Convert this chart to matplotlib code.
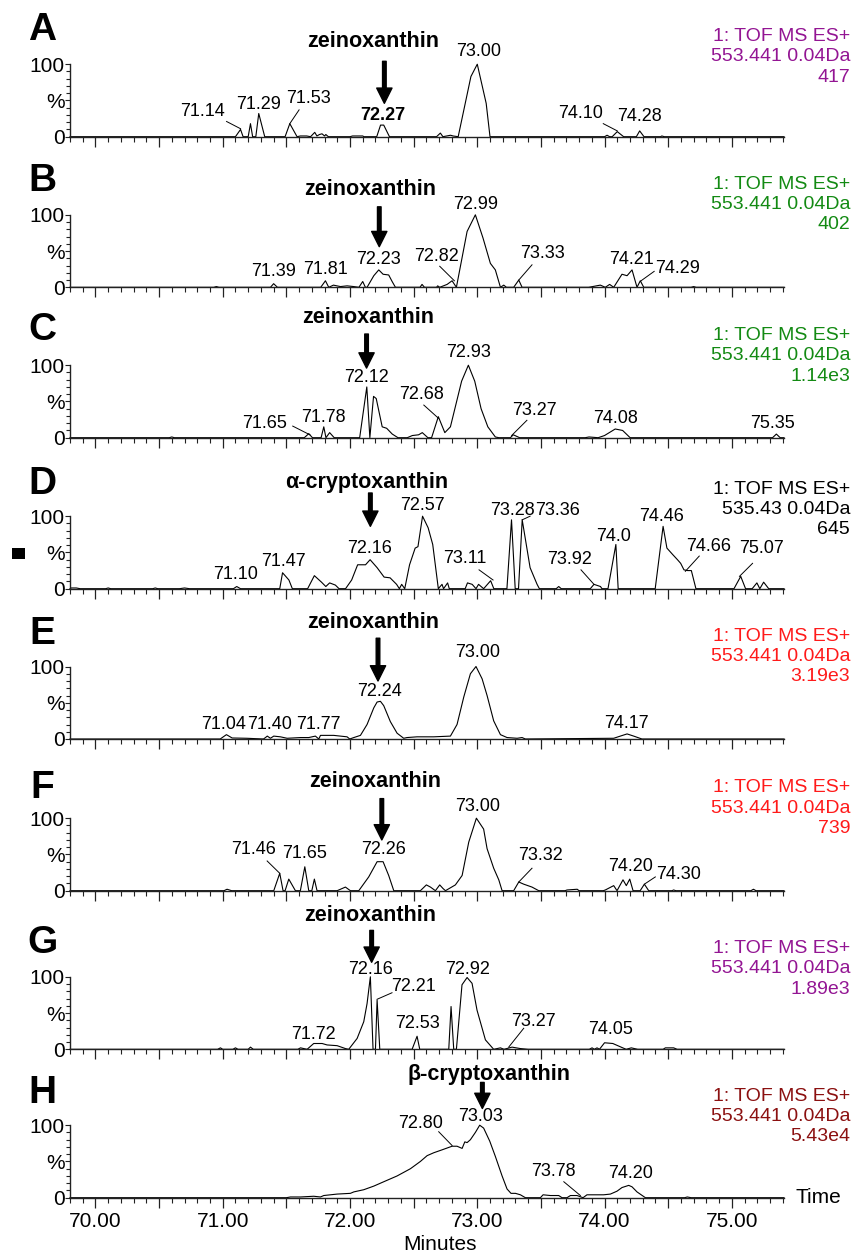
import matplotlib
matplotlib.use('Agg')
import matplotlib.pyplot as plt
import matplotlib.transforms as mtransforms
from matplotlib.patches import Rectangle
from matplotlib.ticker import MultipleLocator, FixedLocator, FuncFormatter

plt.rcParams['font.family'] = ['Liberation Sans', 'DejaVu Sans']

# chromatogram traces, (minutes, relative intensity %)
trace_a = [(69.80, 0), (71.10, 0), (71.14, 10), (71.16, 0), (71.20, 0), (71.218, 18), (71.235, 0),
           (71.26, 0), (71.283, 32), (71.33, 0), (71.49, 0), (71.527, 18), (71.584, 0), (71.61, 1),
           (71.66, 1), (71.69, 0), (71.723, 6), (71.74, 1), (71.76, 3), (71.78, 4), (71.80, 1),
           (71.81, 3), (71.83, 0), (72.00, 0), (72.02, 1), (72.10, 1), (72.11, 0), (72.21, 0),
           (72.24, 16), (72.265, 16), (72.31, 0), (72.68, 0), (72.71, 5), (72.73, 0), (72.76, 1),
           (72.79, 2), (72.81, 1), (72.85, 0), (72.95, 83), (73.00, 100), (73.07, 46), (73.10, 0),
           (74.00, 0), (74.02, 2), (74.04, 0), (74.06, 0), (74.10, 7), (74.15, 0), (74.25, 0),
           (74.276, 8), (74.31, 0), (74.44, 0), (74.45, 1), (74.47, 0), (75.41, 0)]
trace_b = [(69.80, 0), (70.93, 0), (70.95, 1), (70.97, 0), (71.375, 0), (71.40, 5), (71.43, 0),
           (71.77, 0), (71.807, 9), (71.833, 0), (71.87, 3), (71.925, 1), (71.977, 2), (72.03, 1),
           (72.07, 0), (72.10, 8), (72.121, 0), (72.134, 0), (72.187, 16), (72.226, 24), (72.26, 18),
           (72.304, 17), (72.331, 8), (72.357, 0), (72.55, 0), (72.566, 4), (72.585, 0), (72.68, 0),
           (72.689, 2), (72.705, 0), (72.763, 4), (72.802, 9), (72.836, 0), (72.92, 77), (72.985, 100),
           (73.045, 68), (73.103, 33), (73.142, 24), (73.182, 0), (73.208, 3), (73.229, 0), (73.286, 0),
           (73.326, 10), (73.352, 0), (73.875, 0), (73.967, 3), (74.006, 0), (74.04, 4), (74.072, 0),
           (74.137, 18), (74.177, 16), (74.216, 24), (74.255, 0), (74.281, 9), (74.308, 0), (74.68, 0),
           (74.70, 1), (74.72, 0), (75.41, 0)]
trace_c = [(69.80, 0), (70.58, 0), (70.60, 1), (70.62, 0), (71.641, 0), (71.676, 5.6), (71.705, 0),
           (71.773, 0), (71.794, 15), (71.811, 0), (71.84, 7), (71.876, 0), (72.076, 0), (72.132, 70),
           (72.156, 0), (72.185, 57), (72.206, 54), (72.253, 15), (72.288, 13), (72.332, 5), (72.377, 0),
           (72.45, 0), (72.49, 3), (72.539, 4), (72.568, 7), (72.612, 0), (72.641, 0), (72.694, 29),
           (72.745, 7), (72.789, 15), (72.877, 78), (72.93, 100), (72.98, 78), (73.03, 40), (73.083, 15),
           (73.142, 1), (73.17, 0), (73.26, 0), (73.283, 4), (73.333, 0), (73.848, 0), (73.878, 1),
           (73.95, 0), (74.0, 3), (74.084, 12), (74.142, 10), (74.201, 0), (75.32, 0), (75.35, 5),
           (75.38, 0), (75.41, 0)]
trace_d = [(69.80, 0), (69.81, 1), (69.85, 1), (69.88, 0), (70.08, 0), (70.10, 1), (70.12, 0), (70.45, 0),
           (70.47, 1), (70.49, 0), (70.66, 0), (70.70, 1), (70.74, 0), (71.084, 0), (71.11, 3), (71.14, 0),
           (71.448, 0), (71.47, 22), (71.52, 12), (71.547, 0), (71.667, 0), (71.72, 18), (71.776, 9),
           (71.81, 3), (71.84, 8), (71.885, 5), (71.914, 0), (71.965, 0), (72.013, 12), (72.06, 33),
           (72.122, 33), (72.158, 40), (72.213, 29), (72.268, 16), (72.315, 15), (72.366, 6), (72.388, 0),
           (72.406, 6), (72.43, 0), (72.468, 33), (72.512, 56), (72.534, 58), (72.57, 100), (72.614, 84),
           (72.65, 61), (72.694, 0), (72.723, 6), (72.735, 0), (72.767, 8), (72.78, 0), (72.905, 0),
           (72.923, 8), (72.96, 6), (72.99, 0), (73.01, 6), (73.05, 0), (73.105, 11), (73.13, 0),
           (73.233, 0), (73.269, 95), (73.298, 0), (73.324, 0), (73.353, 95), (73.415, 29), (73.47, 6),
           (73.488, 0), (73.62, 0), (73.64, 3), (73.66, 0), (73.888, 0), (73.917, 6), (73.968, 3),
           (73.98, 0), (74.027, 0), (74.089, 61), (74.107, 0), (74.398, 0), (74.46, 86), (74.49, 56),
           (74.536, 47), (74.573, 40), (74.598, 35), (74.624, 26), (74.653, 25), (74.682, 25), (74.718, 0),
           (75.017, 0), (75.07, 17), (75.108, 0), (75.16, 0), (75.197, 8), (75.22, 0), (75.25, 9),
           (75.29, 0), (75.41, 0)]
trace_e = [(69.80, 0), (70.98, 0), (71.029, 6), (71.074, 1.4), (71.19, 1), (71.32, 0), (71.336, 2),
           (71.35, 4), (71.375, 1), (71.401, 4), (71.453, 3), (71.506, 1), (71.611, 2), (71.676, 2),
           (71.728, 4), (71.755, 0), (71.768, 5), (71.872, 5), (71.977, 3), (71.998, 0), (72.03, 2),
           (72.082, 5), (72.134, 20), (72.187, 43), (72.213, 51), (72.239, 52), (72.265, 46), (72.317, 24),
           (72.37, 8), (72.422, 1), (72.448, 2), (72.527, 3), (72.605, 3), (72.658, 3), (72.789, 4),
           (72.841, 20), (72.894, 58), (72.946, 90), (72.99, 100), (73.038, 83), (73.077, 60), (73.129, 25),
           (73.182, 6), (73.234, 2), (73.313, 1), (73.352, 2), (73.378, 0), (74.072, 1), (74.124, 4),
           (74.177, 7), (74.229, 4), (74.294, 0), (75.41, 0)]
trace_f = [(69.80, 0), (71.01, 0), (71.034, 2), (71.07, 0), (71.401, 0), (71.448, 24), (71.474, 0),
           (71.49, 0), (71.519, 16), (71.571, 0), (71.61, 0), (71.645, 33), (71.676, 0), (71.70, 0),
           (71.72, 16), (71.741, 0), (71.899, 0), (71.964, 5), (72.003, 0), (72.069, 0), (72.147, 19),
           (72.213, 40), (72.26, 40), (72.304, 21), (72.344, 0), (72.553, 0), (72.60, 8), (72.632, 5),
           (72.671, 0), (72.705, 8), (72.731, 3), (72.75, 0), (72.828, 8), (72.881, 21), (72.933, 67),
           (72.993, 100), (73.05, 85), (73.077, 58), (73.129, 31), (73.169, 15), (73.195, 0), (73.286, 0),
           (73.326, 12), (73.365, 9), (73.43, 5), (73.483, 0), (73.69, 0), (73.705, 1), (73.785, 2),
           (73.80, 0), (73.99, 0), (74.006, 1), (74.072, 7), (74.098, 0), (74.145, 15), (74.171, 7),
           (74.198, 16), (74.224, 0), (74.28, 0), (74.313, 9), (74.347, 0), (74.53, 0), (74.543, 1),
           (74.56, 0), (75.15, 0), (75.17, 2), (75.19, 0), (75.41, 0)]
trace_g = [(69.80, 0), (70.96, 0), (70.982, 2), (71.00, 0), (71.08, 0), (71.10, 2), (71.12, 0), (71.20, 0),
           (71.218, 3), (71.24, 0), (71.59, 0), (71.611, 2), (71.663, 0), (71.715, 8), (71.781, 8),
           (71.82, 6), (71.899, 5), (71.964, 1), (71.99, 0), (72.056, 15), (72.108, 38), (72.134, 63),
           (72.16, 100), (72.181, 0), (72.20, 0), (72.213, 68), (72.234, 0), (72.488, 0), (72.527, 18),
           (72.548, 0), (72.776, 0), (72.794, 59), (72.815, 0), (72.836, 0), (72.88, 89), (72.92, 99),
           (72.959, 91), (72.998, 54), (73.064, 13), (73.129, 0), (73.182, 2), (73.21, 0), (73.273, 3),
           (73.339, 1), (73.40, 0), (73.88, 0), (73.902, 2), (73.92, 0), (73.941, 2), (73.96, 0),
           (74.0, 9), (74.065, 8), (74.143, 2), (74.17, 0), (74.21, 2), (74.26, 0), (74.46, 0),
           (74.478, 2), (74.543, 2), (74.57, 0), (75.41, 0)]
trace_h = [(69.80, 0), (71.50, 0), (71.532, 1), (71.611, 1), (71.715, 2), (71.768, 1), (71.794, 3),
           (71.899, 5), (72.003, 6), (72.03, 8), (72.108, 11), (72.187, 16), (72.265, 22), (72.37, 30),
           (72.475, 40), (72.553, 50), (72.606, 58), (72.658, 62), (72.723, 66), (72.802, 71), (72.841, 71),
           (72.881, 68), (72.902, 77), (72.92, 76), (72.946, 80), (72.985, 90), (73.019, 100), (73.05, 96),
           (73.098, 78), (73.142, 57), (73.195, 30), (73.234, 12), (73.265, 6), (73.30, 6), (73.339, 4),
           (73.378, 0), (73.496, 0), (73.517, 4), (73.574, 3), (73.64, 3), (73.666, 0), (73.705, 0),
           (73.732, 3), (73.784, 3), (73.831, 0), (73.862, 4), (73.915, 4), (73.993, 4), (74.046, 5),
           (74.098, 9), (74.137, 14), (74.19, 17), (74.216, 15), (74.255, 8), (74.321, 0), (74.63, 0),
           (74.65, 1), (74.68, 0), (75.41, 0)]

# peak labels: (text, time, % height of label centre)
labels_a = [('71.14', 70.84, 35), ('71.29', 71.283, 45), ('71.53', 71.676, 53), ('72.27', 72.26, 29),
            ('73.00', 73.01, 117), ('74.10', 73.81, 32), ('74.28', 74.276, 28)]
labels_b = [('71.39', 71.40, 22), ('71.81', 71.807, 24), ('72.23', 72.226, 39), ('72.82', 72.679, 42),
            ('72.99', 72.99, 114), ('73.33', 73.509, 46), ('74.21', 74.208, 38), ('74.29', 74.57, 26)]
labels_c = [('71.65', 71.33, 19), ('71.78', 71.794, 28), ('72.12', 72.132, 83), ('72.68', 72.56, 60),
            ('72.93', 72.93, 118), ('73.27', 73.45, 37), ('74.08', 74.09, 27), ('75.35', 75.32, 20)]
labels_d = [('71.10', 71.10, 20), ('71.47', 71.474, 38), ('72.16', 72.15, 56), ('72.57', 72.57, 115),
            ('73.11', 72.905, 41), ('73.28', 73.276, 108), ('73.36', 73.633, 108), ('73.92', 73.724, 40),
            ('74.0', 74.07, 72), ('74.46', 74.45, 99), ('74.66', 74.817, 58), ('75.07', 75.236, 56)]
labels_e = [('71.04', 71.01, 20), ('71.40', 71.37, 20), ('71.77', 71.754, 20), ('72.24', 72.234, 65),
            ('73.00', 73.00, 119), ('74.17', 74.171, 21)]
labels_f = [('71.46', 71.244, 57), ('71.65', 71.645, 52), ('72.26', 72.26, 57), ('73.00', 73.00, 116),
            ('73.32', 73.496, 48), ('74.20', 74.203, 33), ('74.30', 74.583, 22)]
labels_g = [('71.72', 71.715, 21), ('72.16', 72.16, 110), ('72.21', 72.496, 87), ('72.53', 72.527, 36),
            ('72.92', 72.925, 110), ('73.27', 73.44, 39), ('74.05', 74.05, 28)]
labels_h = [('72.80', 72.558, 103), ('73.03', 73.025, 112), ('73.78', 73.601, 36), ('74.20', 74.203, 34)]

# leader lines from label to peak: (t0, y0, t1, y1)
leaders_a = [(71.03, 21, 71.14, 11), (71.60, 37, 71.527, 18), (73.99, 18, 74.10, 8)]
leaders_b = [(72.705, 29, 72.82, 9), (73.43, 31, 73.326, 10), (74.39, 22, 74.287, 9)]
leaders_c = [(71.55, 16, 71.685, 4), (72.58, 45, 72.694, 27), (73.39, 24, 73.27, 3)]
leaders_d = [(73.014, 26, 73.124, 12), (73.415, 100, 73.353, 95), (73.815, 26, 73.917, 6),
             (74.744, 45, 74.635, 24), (75.163, 35, 75.06, 17)]
leaders_e = []
leaders_f = [(71.349, 41, 71.448, 24), (73.43, 31, 73.326, 12), (74.399, 19, 74.313, 9)]
leaders_g = [(72.33, 78, 72.213, 69), (73.365, 29, 73.247, 3)]
leaders_h = [(72.697, 91, 72.802, 72), (73.68, 22, 73.81, 3)]

panels = ['A', 'B', 'C', 'D', 'E', 'F', 'G', 'H']
compounds = ['zeinoxanthin', 'zeinoxanthin', 'zeinoxanthin', 'α-cryptoxanthin',
             'zeinoxanthin', 'zeinoxanthin', 'zeinoxanthin', 'β-cryptoxanthin']
arrow_times = [72.27, 72.23, 72.13, 72.16, 72.22, 72.25, 72.17, 73.04]
masses = ['553.441 0.04Da', '553.441 0.04Da', '553.441 0.04Da', '535.43 0.04Da',
          '553.441 0.04Da', '553.441 0.04Da', '553.441 0.04Da', '553.441 0.04Da']
max_counts = ['417', '402', '1.14e3', '645', '3.19e3', '739', '1.89e3', '5.43e4']

traces = [trace_a, trace_b, trace_c, trace_d, trace_e, trace_f, trace_g, trace_h]
labels = [labels_a, labels_b, labels_c, labels_d, labels_e, labels_f, labels_g, labels_h]
leaders = [leaders_a, leaders_b, leaders_c, leaders_d, leaders_e, leaders_f, leaders_g, leaders_h]

# layout
side_colors = ['#931593', '#138A13', '#138A13', 'black', '#FF1A1A', '#FF1A1A', '#931593', '#8B1010']
base_px = [136.7, 287.3, 437.7, 588.7, 739.0, 890.7, 1049.3, 1197.7]
name_x = [72.18, 72.16, 72.14, 72.13, 72.18, 72.20, 72.16, 73.09]
name_y = [131, 135, 166, 147, 161, 150, 184, 170]
arrow_top = [104, 111, 143, 132, 139, 127, 164, 159]
arrow_tip = [46, 56, 96, 86, 80, 70, 120, 123]
letter_y = [147, 147, 148, 144, 145, 142, 147, 145]
side_y = [110, 114, 113, 109, 114, 114, 111, 112]

W, H = 855, 1253
fig = plt.figure(figsize=(W / 100, H / 100), dpi=100)
left_px, right_px, panel_h = 70, 784, 72.5

for i in range(8):
    ax = fig.add_axes([left_px / W, 1 - base_px[i] / H, (right_px - left_px) / W, panel_h / H])
    ax.patch.set_visible(False)
    t = [p[0] for p in traces[i]]
    y = [p[1] for p in traces[i]]
    ax.plot(t, y, color='black', lw=0.8, clip_on=False)
    ax.set_xlim(69.80, 75.41)
    ax.set_ylim(0, 100)
    for s in ['top', 'right']:
        ax.spines[s].set_visible(False)
    for s in ['left', 'bottom']:
        ax.spines[s].set_linewidth(1.0)
        ax.spines[s].set_color('#222222')

    ax.xaxis.set_major_locator(MultipleLocator(0.5))
    ax.xaxis.set_minor_locator(MultipleLocator(0.1))
    ax.yaxis.set_major_locator(FixedLocator([0, 50, 100]))
    ax.yaxis.set_minor_locator(MultipleLocator(10))
    ax.set_yticklabels(['0', '%', '100'])
    ax.tick_params(axis='x', which='major', length=7, width=0.9, direction='out', color='#222222',
                   labelsize=15, pad=3)
    ax.tick_params(axis='x', which='minor', length=3.6, width=0.8, direction='out', color='#222222')
    ax.tick_params(axis='y', which='major', length=3.5, width=0.8, direction='out', color='#222222',
                   labelsize=15, pad=0.5)
    ax.tick_params(axis='y', which='minor', length=2.8, width=0.8, direction='out', color='#222222')
    if i == 7:
        ax.xaxis.set_major_formatter(FuncFormatter(
            lambda v, p: '%.2f' % v if abs(v - round(v)) < 1e-6 else ''))
        ax.text(75.50, 0, 'Time', ha='left', va='center', fontsize=15, clip_on=False)
    else:
        ax.tick_params(axis='x', labelbottom=False)

    for s, tx, ty in labels[i]:
        bold = (i == 0 and s == '72.27')
        ax.text(tx, ty, s, ha='center', va='center', fontsize=13,
                fontweight='bold' if bold else 'normal', clip_on=False)
    for t0, y0, t1, y1 in leaders[i]:
        ax.plot([t0, t1], [y0, y1], color='black', lw=0.7, clip_on=False)

    ax.text(name_x[i], name_y[i], compounds[i], ha='center', va='center', fontsize=15.5,
            fontweight='bold', clip_on=False)
    ax.annotate('', xy=(arrow_times[i], arrow_tip[i]), xytext=(arrow_times[i], arrow_top[i]),
                arrowprops=dict(facecolor='black', edgecolor='black', width=2.6, headwidth=11,
                                headlength=11, shrink=0), annotation_clip=False)

    trans = mtransforms.blended_transform_factory(fig.transFigure, ax.transData)
    ax.text(42 / W, letter_y[i], panels[i], transform=trans, ha='center', va='center',
            fontsize=28, fontweight='bold')
    ax.text(850 / W, side_y[i], '1: TOF MS ES+\n' + masses[i] + '\n' + max_counts[i],
            transform=trans, ha='right', va='center', multialignment='right',
            color=side_colors[i], fontsize=14, linespacing=1.25)

fig.text(440 / W, 1 - 1245 / H, 'Minutes', ha='center', va='center', fontsize=15)
fig.add_artist(Rectangle((12 / W, 1 - 559 / H), 13 / W, 11 / H, transform=fig.transFigure,
                         facecolor='black', edgecolor='none'))

fig.savefig('out.png', dpi=100)
